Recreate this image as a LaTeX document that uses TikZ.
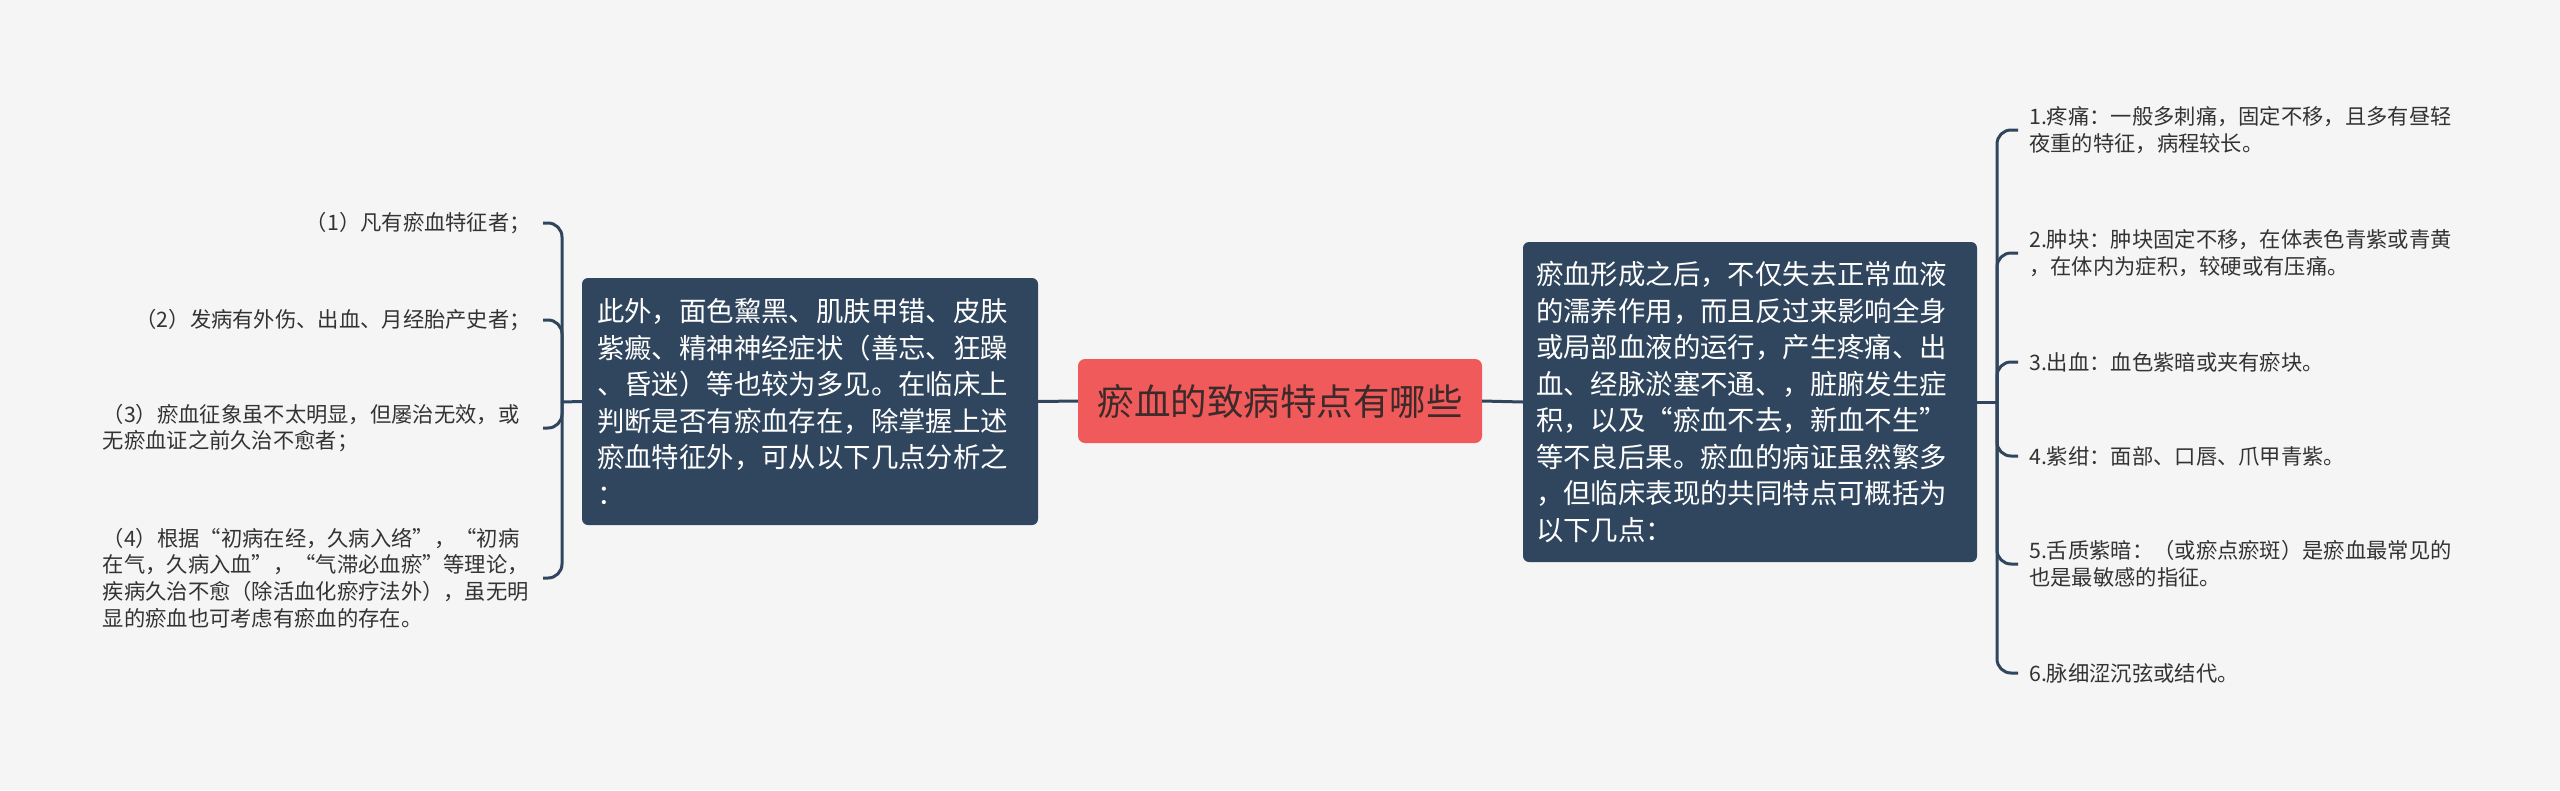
\documentclass[tikz,border=0pt]{standalone}
\usepackage{fontspec}
\newfontfamily\cjk{Noto Sans CJK SC}
\definecolor{bgc}{HTML}{F5F5F5}
\definecolor{boxc}{HTML}{30465E}
\definecolor{rootc}{HTML}{F05A5A}
\definecolor{roottext}{HTML}{3C2A2A}
\definecolor{itemtext}{HTML}{333333}
\begin{document}
\begin{tikzpicture}[x=1pt,y=-1pt,
  mainbox/.style={draw=none, fill=boxc, rounded corners=6pt, text=white, align=left,
    font=\cjk\fontsize{27.4}{36.5}\selectfont, inner ysep=0pt},
  rootbox/.style={fill=rootc, rounded corners=7pt, text=roottext, inner sep=0pt,
    minimum width=404pt, minimum height=84pt, font=\cjk\fontsize{36.5}{44}\selectfont},
  ritem/.style={anchor=west, inner xsep=11pt, inner ysep=0pt, align=left, text=itemtext,
    font=\cjk\fontsize{21.3}{27}\selectfont},
  litem/.style={anchor=east, inner xsep=12pt, inner ysep=0pt, align=left, text=itemtext,
    font=\cjk\fontsize{21.3}{26.7}\selectfont},
  conn/.style={draw=boxc, line width=3pt},
  brk/.style={draw=boxc, line width=3pt, rounded corners=14pt}
]
\useasboundingbox (0,0) rectangle (2560,790);
\fill[bgc] (0,0) rectangle (2560,790);

\node[rootbox] (root) at (1280,401) {瘀血的致病特点有哪些};

\node[mainbox, text width=426pt, inner xsep=15pt, minimum height=247pt] (lb) at (810,401.5) {此外，面色黧黑、肌肤甲错、皮肤\\紫癜、精神神经症状（善忘、狂躁\\、昏迷）等也较为多见。在临床上\\判断是否有瘀血存在，除掌握上述\\瘀血特征外，可从以下几点分析之\\：};

\node[mainbox, text width=428pt, inner xsep=13pt, minimum height=320pt] (rb) at (1750,402) {瘀血形成之后，不仅失去正常血液\\的濡养作用，而且反过来影响全身\\或局部血液的运行，产生疼痛、出\\血、经脉淤塞不通、，脏腑发生症\\积，以及“瘀血不去，新血不生”\\等不良后果。瘀血的病证虽然繁多\\，但临床表现的共同特点可概括为\\以下几点：};

\node[ritem] (r1) at (2018,130) {1.疼痛：一般多刺痛，固定不移，且多有昼轻\\夜重的特征，病程较长。};
\node[ritem] (r2) at (2018,253) {2.肿块：肿块固定不移，在体表色青紫或青黄\\，在体内为症积，较硬或有压痛。};
\node[ritem] (r3) at (2018,362) {3.出血：血色紫暗或夹有瘀块。};
\node[ritem] (r4) at (2018,456) {4.紫绀：面部、口唇、爪甲青紫。};
\node[ritem] (r5) at (2018,564) {5.舌质紫暗：（或瘀点瘀斑）是瘀血最常见的\\也是最敏感的指征。};
\node[ritem] (r6) at (2018,673) {6.脉细涩沉弦或结代。};

\node[litem] (l1) at (543,223) {（1）凡有瘀血特征者；};
\node[litem] (l2) at (543,320) {（2）发病有外伤、出血、月经胎产史者；};
\node[litem, text width=428pt] (l3) at (543,428) {（3）瘀血征象虽不太明显，但屡治无效，或\\无瘀血证之前久治不愈者；};
\node[litem, text width=428pt] (l4) at (543,578) {（4）根据“初病在经，久病入络”，“初病\\在气，久病入血”，“气滞必血瘀”等理论，\\疾病久治不愈（除活血化瘀疗法外），虽无明\\显的瘀血也可考虑有瘀血的存在。};

\coordinate (rj) at (1997,402);
\coordinate (lj) at (562,402);

\draw[conn] (root.west) -- (lb.east);
\draw[conn] (root.east) -- (rb.west);
\draw[conn] (rb.east) -- (rj);
\draw[conn] (lb.west) -- (lj);
\foreach \n in {r1,r2,r3,r4,r5,r6} \draw[brk] (rj) |- (\n.west);
\foreach \n in {l1,l2,l3,l4} \draw[brk] (lj) |- (\n.east);
\end{tikzpicture}
\end{document}
